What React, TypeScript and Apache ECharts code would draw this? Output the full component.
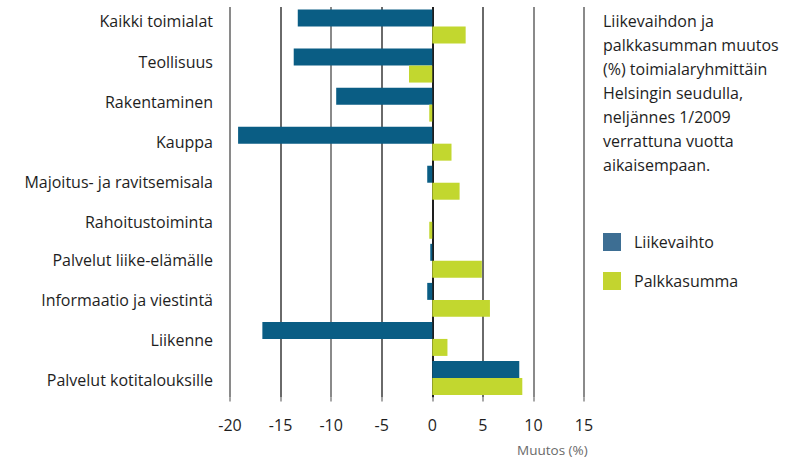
import React, { useEffect, useRef } from "react";
import * as echarts from "echarts";

const categories = [
  "Kaikki toimialat",
  "Teollisuus",
  "Rakentaminen",
  "Kauppa",
  "Majoitus- ja ravitsemisala",
  "Rahoitustoiminta",
  "Palvelut liike-elämälle",
  "Informaatio ja viestintä",
  "Liikenne",
  "Palvelut kotitalouksille",
];
const liikevaihto = [-13.3, -13.7, -9.5, -19.2, -0.5, 0, -0.2, -0.5, -16.8, 8.6];
const palkkasumma = [3.3, -2.3, -0.3, 1.9, 2.7, -0.3, 4.9, 5.7, 1.5, 8.9];
const titleLines = [
  "Liikevaihdon ja",
  "palkkasumman muutos",
  "(%) toimialaryhmittäin",
  "Helsingin seudulla,",
  "neljännes 1/2009",
  "verrattuna vuotta",
  "aikaisempaan.",
];
const axisName = "Muutos (%)";

const FONT = "'Open Sans', 'Noto Sans', sans-serif";
// vertical nudge (px) of each category label relative to its band centre
const labelNudge = [-5.5, -4, -2.5, -1.5, -1, 0, -1, 0, 1.5, 2];

export default function App() {
  const ref = useRef<HTMLDivElement>(null);
  useEffect(() => {
    const chart = echarts.init(ref.current!, null, { renderer: "svg" });
    const rich: Record<string, any> = {};
    labelNudge.forEach((d, i) => {
      rich["n" + i] = {
        fontFamily: FONT,
        fontSize: 16,
        color: "#1e1e1e",
        padding: [Math.max(0, 2 * d), 0, Math.max(0, -2 * d), 0],
      };
    });
    chart.setOption({
      animation: false,
      backgroundColor: "#ffffff",
      grid: { left: 230, right: 203, top: 7, bottom: 68.5, containLabel: false },
      title: {
        text: titleLines.join("\n"),
        left: 598,
        top: 4,
        textStyle: {
          fontFamily: FONT,
          fontSize: 16,
          fontWeight: "normal",
          color: "#1e1e1e",
          lineHeight: 24,
        },
      },
      legend: {
        orient: "vertical",
        left: 598,
        top: 228,
        itemWidth: 18,
        itemHeight: 18,
        itemGap: 21,
        icon: "rect",
        textStyle: { fontFamily: FONT, fontSize: 16, color: "#1e1e1e", padding: [0, 0, 0, 8] },
        data: [
          { name: "Liikevaihto", itemStyle: { color: "#3d6e93" } },
          { name: "Palkkasumma", itemStyle: { color: "#c3d42f" } },
        ],
      },
      xAxis: {
        type: "value",
        min: -20,
        max: 15,
        interval: 5,
        axisLine: { show: false },
        axisTick: { show: true, length: 4, lineStyle: { color: "#888", width: 1.5 } },
        axisLabel: { fontFamily: FONT, fontSize: 16, color: "#1e1e1e", margin: 19 },
        splitLine: {
          show: true,
          lineStyle: {
            color: ["#8a8a8a", "#6a6a6a", "#8a8a8a", "#6a6a6a", "#1e1e1e", "#6a6a6a", "#8a8a8a", "#8a8a8a"],
            width: 2,
          },
        },
      },
      yAxis: {
        type: "category",
        data: categories,
        inverse: true,
        axisLine: { show: false },
        axisTick: { show: false },
        axisLabel: {
          fontFamily: FONT,
          fontSize: 16,
          color: "#1e1e1e",
          margin: 17,
          formatter: (v: string, i: number) => `{n${i}|${v}}`,
          rich,
        },
      },
      graphic: [
        {
          type: "text",
          left: 517,
          top: 443,
          style: { text: axisName, fontFamily: FONT, fontSize: 13.5, fill: "#6a6a6a" },
        },
      ],
      series: [
        {
          name: "Liikevaihto",
          type: "bar",
          data: liikevaihto,
          itemStyle: { color: "#0a5d84" },
          barGap: "0%",
          barCategoryGap: "13%",
        },
        {
          name: "Palkkasumma",
          type: "bar",
          data: palkkasumma,
          itemStyle: { color: "#c2d72f" },
          barGap: "0%",
          barCategoryGap: "13%",
        },
      ],
    });
    return () => chart.dispose();
  }, []);
  return <div ref={ref} style={{ width: 787, height: 466, position: "absolute", left: 0, top: 0 }} />;
}
